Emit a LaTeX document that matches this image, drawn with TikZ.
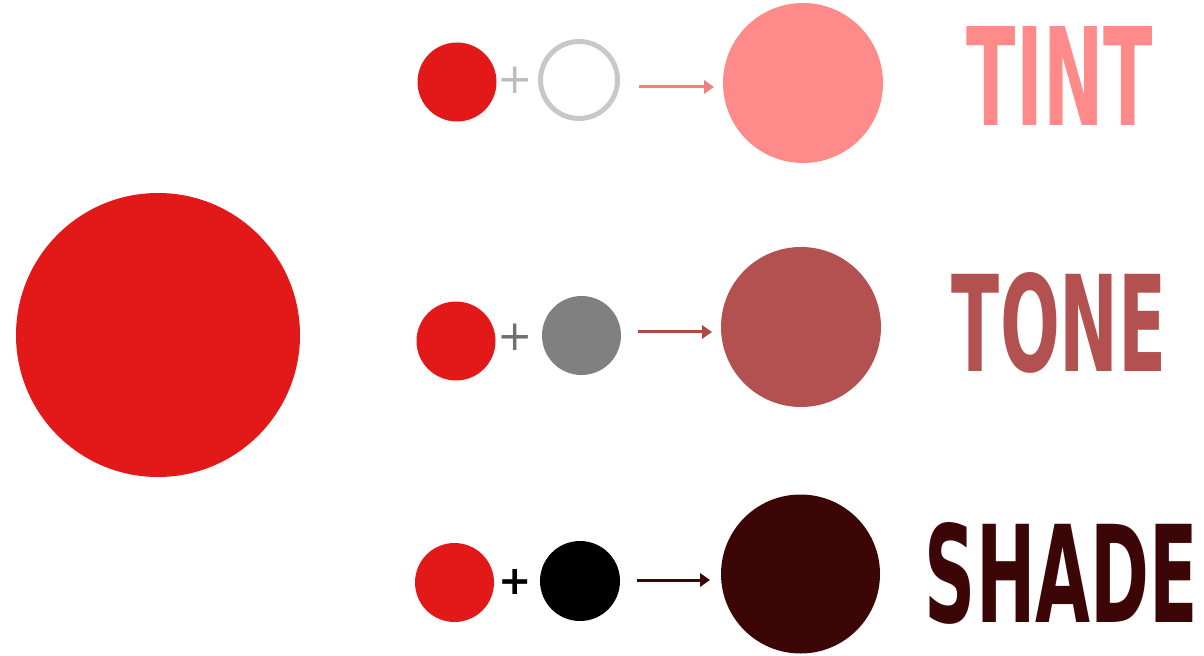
\documentclass[tikz,border=0pt]{standalone}
\usepackage{fontspec}
\usepackage{graphicx}
\usetikzlibrary{arrows.meta}
\newfontfamily\condfont{DejaVu Sans}
\definecolor{basered}{HTML}{E31818}
\definecolor{tintc}{HTML}{FF8A8A}
\definecolor{tonec}{HTML}{B35050}
\definecolor{shadec}{HTML}{3D0606}
\definecolor{greyc}{HTML}{808080}
\definecolor{ringc}{HTML}{C8C8C8}
\definecolor{plusa}{HTML}{BDBDBD}
\definecolor{plusb}{HTML}{707070}
\definecolor{arra}{HTML}{F08080}
\definecolor{arrb}{HTML}{B04848}
\begin{document}
\begin{tikzpicture}[x=0.03cm,y=-0.03cm,
  dot/.style={circle,inner sep=0pt,draw=none,minimum size=#1*0.03cm},
  ring/.style={circle,inner sep=0pt,draw=ringc,fill=white,line width=0.15cm,minimum size=#1*0.03cm},
  plus/.style={inner sep=0pt,font=\condfont\fontsize{36}{36}\selectfont},
  conn/.style={line width=0.09cm,-{Triangle[length=0.3cm,width=0.4cm]}},
  lbl/.style={inner sep=0pt,font=\condfont\bfseries}]
\useasboundingbox (0,0) rectangle (1204,656);
% base colour
\node[dot=284,fill=basered] (base) at (158,335) {};
% row 1: tint
\node[dot=79,fill=basered] (r1) at (457,82) {};
\node[plus,text=plusa] (p1) at (515,80) {+};
\node[ring=77] (w1) at (579,80) {};
\coordinate (a1s) at (639,87);
\coordinate (a1e) at (714,87);
\draw[conn,draw=arra,fill=arra] (a1s) -- (a1e);
\node[dot=160,fill=tintc] (res1) at (803,83) {};
\node[lbl,text=tintc] (tint) at (1060,75.5) {\resizebox{5.58cm}{2.97cm}{TINT}};
% row 2: tone
\node[dot=79,fill=basered] (r2) at (456,341) {};
\node[plus,text=plusb] (p2) at (515,337) {+};
\node[dot=79,fill=greyc] (g2) at (581.5,335.5) {};
\coordinate (a2s) at (638,332);
\coordinate (a2e) at (712,332);
\draw[conn,draw=arrb,fill=arrb] (a2s) -- (a2e);
\node[dot=160,fill=tonec] (res2) at (801,327) {};
\node[lbl,text=tonec] (tone) at (1059.5,322.5) {\resizebox{6.45cm}{2.97cm}{TONE}};
% row 3: shade
\node[dot=79,fill=basered] (r3) at (454.5,582.5) {};
\node[plus,text=black,font=\condfont\bfseries\fontsize{34}{34}\selectfont] (p3) at (515,582) {+};
\node[dot=80,fill=black] (k3) at (580,581) {};
\coordinate (a3s) at (637,580);
\coordinate (a3e) at (710,580);
\draw[conn,draw=shadec,fill=shadec] (a3s) -- (a3e);
\node[dot=159,fill=shadec] (res3) at (800.5,574) {};
\node[lbl,text=shadec] (shade) at (1061.5,573) {\resizebox{8.19cm}{3.0cm}{SHADE}};
\end{tikzpicture}
\end{document}
